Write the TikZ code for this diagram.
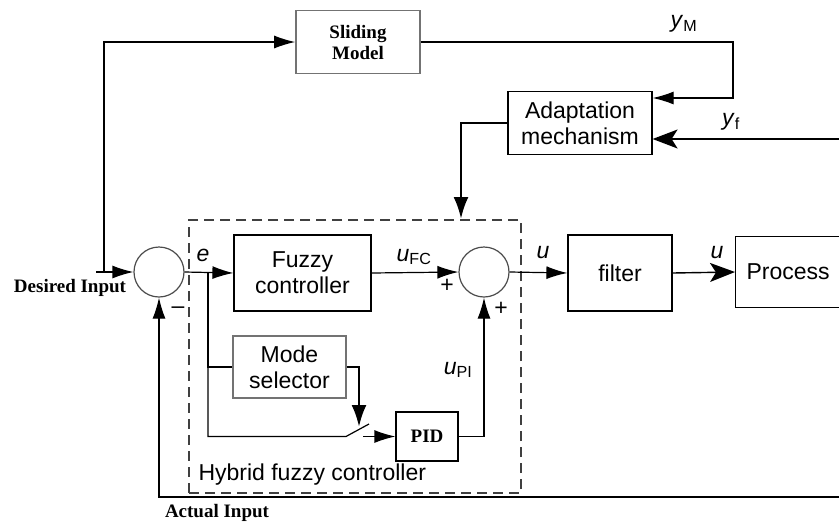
\documentclass[tikz,border=0pt]{standalone}
\usepackage{fontspec}
\setmainfont{Liberation Sans}
\newfontfamily\tnr{Liberation Serif}
\usetikzlibrary{arrows.meta, positioning, shapes.geometric}
\newcommand{\sig}[2]{\textit{#1}\textsubscript{#2}}

\begin{document}
\begin{tikzpicture}[x=1pt, y=-1pt,
    blk/.style={rectangle, draw, line width=1.2pt, align=center, font=\fontsize{23}{26}\selectfont},
    greyblk/.style={blk, draw=black!55, line width=1.6pt},
    serifblk/.style={font=\tnr\bfseries\fontsize{19}{21}\selectfont},
    sumc/.style={circle, draw=black!70, line width=1.2pt, minimum size=50pt, inner sep=0pt},
    dashbox/.style={rectangle, draw=black!75, line width=1.2pt, dash pattern=on 10pt off 6pt},
    sigl/.style={font=\fontsize{23}{26}\selectfont},
    arr/.style={line width=1.2pt, -{Latex[length=21pt,width=13pt]}},
    bigarr/.style={line width=1.4pt, -{Stealth[length=25pt,width=19pt,inset=6pt]}},
    thickarr/.style={line width=2.8pt, -{Latex[length=22pt,width=15pt]}},
    wire/.style={line width=1.2pt}
]
\useasboundingbox (0,0) rectangle (839,523);

% blocks
\node[dashbox, minimum width=332pt, minimum height=273pt] (hybrid) at (355,356.5) {};
\node[sumc] (sum1) at (159,272) {};
\node[blk, minimum width=137pt, minimum height=76pt] (fuzzy) at (302.5,273) {Fuzzy\\controller};
\node[sumc] (sum2) at (484,272) {};
\node[blk, minimum width=104pt, minimum height=76pt] (filter) at (620,273) {filter};
\node[blk, anchor=west, minimum height=71pt, text width=110pt, inner sep=11pt, align=left] (proc) at (735,272) {Process};
\node[greyblk, minimum width=113pt, minimum height=62pt] (mode) at (289.5,367) {Mode\\selector};
\node[blk, serifblk, minimum width=62pt, minimum height=49pt] (pid) at (427,436.5) {PID};
\node[greyblk, serifblk, minimum width=124pt, minimum height=63pt] (sliding) at (358,42) {Sliding\\Model};
\node[blk, minimum width=144pt, minimum height=63pt] (adapt) at (580,123) {Adaptation\\mechanism};

% free ends
\coordinate (din) at (96,272);
\coordinate (tap) at (104,272);
\coordinate (eb) at (208,272);
\coordinate (sw1) at (346,436.5);
\coordinate (sw2) at (369,424);
\coordinate (sw3) at (363,436.5);
\coordinate (swtip) at (359,427);
\coordinate (ymc) at (733,98);
\coordinate (yfin) at (850,139);
\coordinate (hbtop) at (461,219);
\coordinate (fbin) at (850,497);

% connectors
\draw[arr] (din) -- (sum1.west);
\draw[arr] (tap) |- (sliding.west);
\draw[arr] (sum1.east) -- (fuzzy.west);
\draw[wire] (eb) |- (mode.west);
\draw[wire] (eb) |- (sw1) -- (sw2);
\draw[arr] (sw3) -- (pid.west);
\draw[thickarr] (mode.east) -| (swtip);
\draw[arr] (pid.east) -| (sum2.south);
\draw[arr] (fuzzy.east) -- (sum2.west);
\draw[arr] (sum2.east) -- (filter.west);
\draw[bigarr] (filter.east) -- (proc.west);
\draw[arr] (sliding.east) -| (ymc) -- (adapt.east |- ymc);
\draw[bigarr] (yfin) -- (adapt.east |- yfin);
\draw[thickarr] (adapt.west) -| (hbtop);
\draw[arr] (fbin) -| (sum1.south);

% labels
\node[serifblk] (desired) at (70,288) {Desired Input};
\node[serifblk] (actual) at (217,513) {Actual Input};
\node[sigl] (lbe) at (203,255) {\textit{e}};
\node[sigl] (lbufc) at (414,257) {\sig{u}{FC}};
\node[sigl] (lbu1) at (543,253) {\textit{u}};
\node[sigl] (lbu2) at (717,253) {\textit{u}};
\node[sigl] (lbupi) at (458,370) {\sig{u}{PI}};
\node[sigl] (lbym) at (684,24) {\sig{y}{M}};
\node[sigl] (lbyf) at (731,122) {\sig{y}{f}};
\node[sigl] (plus1) at (447,286) {+};
\node[sigl] (plus2) at (501,309) {+};
\node[sigl] (minus1) at (178,310) {--};
\node[sigl, anchor=west] (hlabel) at (195,475) {Hybrid fuzzy controller};
\end{tikzpicture}
\end{document}
